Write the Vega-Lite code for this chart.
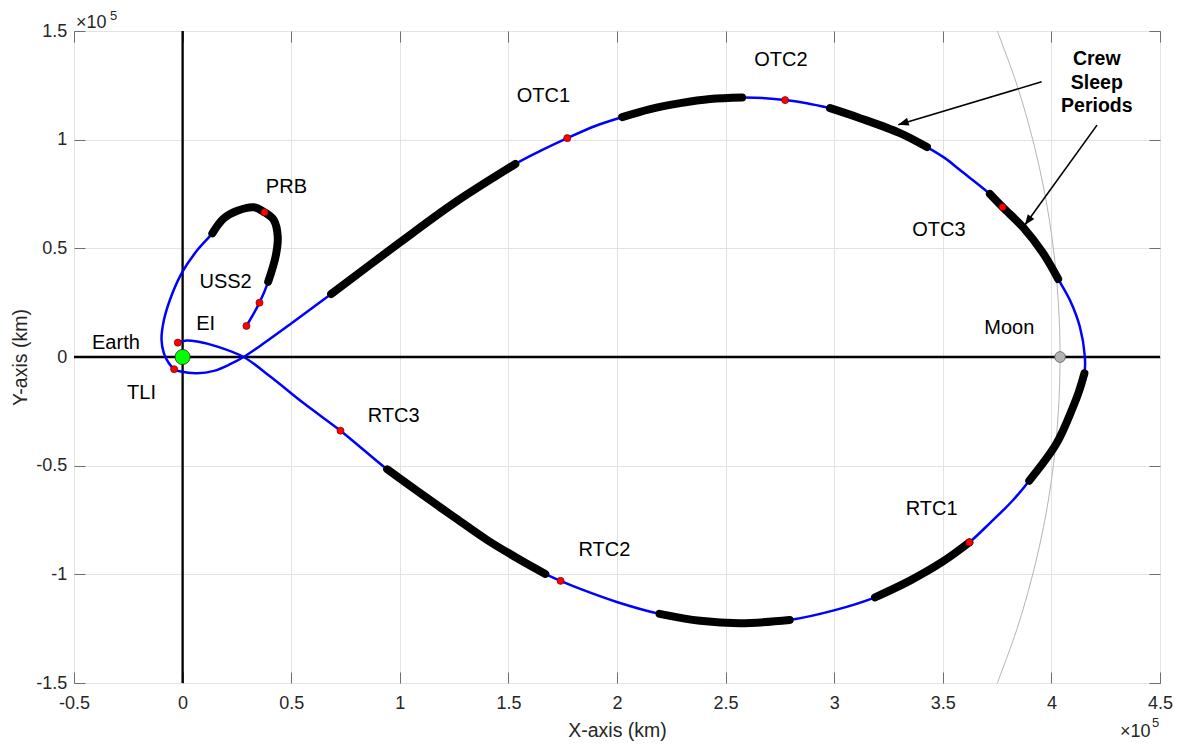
{
  "$schema": "https://vega.github.io/schema/vega-lite/v6.json",
  "width": 1086,
  "height": 652,
  "autosize": {"type": "none"},
  "padding": {"left": 74, "top": 31, "right": 20, "bottom": 61},
  "background": "white",
  "config": {
    "view": {"stroke": "#8a8a8a", "strokeWidth": 1},
    "font": "Liberation Sans",
    "axis": {
      "labelFont": "Liberation Sans", "labelFontSize": 18, "labelColor": "#262626",
      "titleFont": "Liberation Sans", "titleFontSize": 19.5, "titleColor": "#262626", "titleFontWeight": "normal",
      "domain": false, "tickColor": "#6e6e6e", "tickSize": -11, "tickWidth": 1,
      "gridColor": "#e3e3e3", "gridWidth": 1, "labelFlush": false, "labelOverlap": false
    }
  },
  "datasets": {
    "orbit": [
      {"i": 1, "x": 375100, "y": -150000}, {"i": 2, "x": 384200, "y": -125000}, {"i": 3, "x": 391400, "y": -100000},
      {"i": 4, "x": 397000, "y": -75000}, {"i": 5, "x": 400900, "y": -50000}, {"i": 6, "x": 403200, "y": -25000},
      {"i": 7, "x": 404000, "y": 0}, {"i": 8, "x": 403200, "y": 25000}, {"i": 9, "x": 400900, "y": 50000},
      {"i": 10, "x": 397000, "y": 75000}, {"i": 11, "x": 391400, "y": 100000}, {"i": 12, "x": 384200, "y": 125000},
      {"i": 13, "x": 375100, "y": 150000}
    ],
    "traj": [
      {"i": 1, "x": 29400, "y": 14300}, {"i": 2, "x": 35400, "y": 25000}, {"i": 3, "x": 39400, "y": 34600},
      {"i": 4, "x": 42800, "y": 46100}, {"i": 5, "x": 43800, "y": 55300}, {"i": 6, "x": 42000, "y": 63000},
      {"i": 7, "x": 37700, "y": 66600}, {"i": 8, "x": 32800, "y": 68900}, {"i": 9, "x": 25200, "y": 67300},
      {"i": 10, "x": 19000, "y": 63800}, {"i": 11, "x": 13700, "y": 56900}, {"i": 12, "x": 6800, "y": 49200},
      {"i": 13, "x": -100, "y": 39200}, {"i": 14, "x": -4700, "y": 29300}, {"i": 15, "x": -8600, "y": 17000},
      {"i": 16, "x": -9700, "y": 7800}, {"i": 17, "x": -8600, "y": 1700}, {"i": 18, "x": -6300, "y": -2900},
      {"i": 19, "x": -3900, "y": -5600}, {"i": 20, "x": -900, "y": -6700}, {"i": 21, "x": 6800, "y": -7500},
      {"i": 22, "x": 14400, "y": -6400}, {"i": 23, "x": 22100, "y": -3200}, {"i": 24, "x": 28100, "y": 0},
      {"i": 25, "x": 38200, "y": 6900}, {"i": 26, "x": 49700, "y": 15200}, {"i": 27, "x": 68400, "y": 29000},
      {"i": 28, "x": 100300, "y": 52900}, {"i": 29, "x": 124800, "y": 70700}, {"i": 30, "x": 153200, "y": 88800},
      {"i": 31, "x": 164700, "y": 94800}, {"i": 32, "x": 177100, "y": 100700}, {"i": 33, "x": 190000, "y": 106300},
      {"i": 34, "x": 202400, "y": 110400}, {"i": 35, "x": 215300, "y": 114100}, {"i": 36, "x": 229100, "y": 116800},
      {"i": 37, "x": 242900, "y": 118700}, {"i": 38, "x": 257600, "y": 119400}, {"i": 39, "x": 268200, "y": 119100},
      {"i": 40, "x": 277400, "y": 118200}, {"i": 41, "x": 288000, "y": 116600}, {"i": 42, "x": 298100, "y": 114500},
      {"i": 43, "x": 311900, "y": 109900}, {"i": 44, "x": 330300, "y": 103000}, {"i": 45, "x": 342700, "y": 96600},
      {"i": 46, "x": 351000, "y": 91500}, {"i": 47, "x": 357900, "y": 86000}, {"i": 48, "x": 371700, "y": 75000},
      {"i": 49, "x": 377500, "y": 69000}, {"i": 50, "x": 387000, "y": 59600}, {"i": 51, "x": 396200, "y": 47700},
      {"i": 52, "x": 403100, "y": 35900}, {"i": 53, "x": 408500, "y": 26200}, {"i": 54, "x": 413100, "y": 13900},
      {"i": 55, "x": 415400, "y": 100}, {"i": 56, "x": 415200, "y": -7500}, {"i": 57, "x": 412600, "y": -16100},
      {"i": 58, "x": 410000, "y": -22900}, {"i": 59, "x": 402400, "y": -39700}, {"i": 60, "x": 389800, "y": -56900},
      {"i": 61, "x": 382400, "y": -65800}, {"i": 62, "x": 371700, "y": -76400}, {"i": 63, "x": 362200, "y": -85300},
      {"i": 64, "x": 349900, "y": -94200}, {"i": 65, "x": 334900, "y": -102900}, {"i": 66, "x": 318800, "y": -110600},
      {"i": 67, "x": 299900, "y": -116600}, {"i": 68, "x": 279500, "y": -121000}, {"i": 69, "x": 256700, "y": -122500},
      {"i": 70, "x": 238300, "y": -121400}, {"i": 71, "x": 219600, "y": -118200}, {"i": 72, "x": 199900, "y": -112700},
      {"i": 73, "x": 183100, "y": -106700}, {"i": 74, "x": 174000, "y": -103000}, {"i": 75, "x": 167000, "y": -99800},
      {"i": 76, "x": 155500, "y": -93400}, {"i": 77, "x": 140200, "y": -84200}, {"i": 78, "x": 124800, "y": -73500},
      {"i": 79, "x": 109500, "y": -62700}, {"i": 80, "x": 94200, "y": -51700}, {"i": 81, "x": 83400, "y": -42800},
      {"i": 82, "x": 72700, "y": -33900}, {"i": 83, "x": 55800, "y": -21300}, {"i": 84, "x": 40500, "y": -9100},
      {"i": 85, "x": 28100, "y": 0}, {"i": 86, "x": 16000, "y": 4800}, {"i": 87, "x": 6800, "y": 7100},
      {"i": 88, "x": 1800, "y": 7600}, {"i": 89, "x": -2200, "y": 6600}
    ],
    "sleep": [
      {"seg": 1, "i": 3, "x": 39400, "y": 34600}, {"seg": 1, "i": 4, "x": 42800, "y": 46100}, {"seg": 1, "i": 5, "x": 43800, "y": 55300},
      {"seg": 1, "i": 6, "x": 42000, "y": 63000}, {"seg": 1, "i": 7, "x": 37700, "y": 66600}, {"seg": 1, "i": 8, "x": 32800, "y": 68900},
      {"seg": 1, "i": 9, "x": 25200, "y": 67300}, {"seg": 1, "i": 10, "x": 19000, "y": 63800}, {"seg": 1, "i": 11, "x": 13700, "y": 56900},
      {"seg": 2, "i": 27, "x": 68400, "y": 29000}, {"seg": 2, "i": 28, "x": 100300, "y": 52900}, {"seg": 2, "i": 29, "x": 124800, "y": 70700},
      {"seg": 2, "i": 30, "x": 153200, "y": 88800},
      {"seg": 3, "i": 34, "x": 202400, "y": 110400}, {"seg": 3, "i": 35, "x": 215300, "y": 114100}, {"seg": 3, "i": 36, "x": 229100, "y": 116800},
      {"seg": 3, "i": 37, "x": 242900, "y": 118700}, {"seg": 3, "i": 38, "x": 257600, "y": 119400},
      {"seg": 4, "i": 42, "x": 298100, "y": 114500}, {"seg": 4, "i": 43, "x": 311900, "y": 109900}, {"seg": 4, "i": 44, "x": 330300, "y": 103000},
      {"seg": 4, "i": 45, "x": 342700, "y": 96600},
      {"seg": 5, "i": 48, "x": 371700, "y": 75000}, {"seg": 5, "i": 49, "x": 377500, "y": 69000}, {"seg": 5, "i": 50, "x": 387000, "y": 59600},
      {"seg": 5, "i": 51, "x": 396200, "y": 47700}, {"seg": 5, "i": 52, "x": 403100, "y": 35900},
      {"seg": 6, "i": 56, "x": 415200, "y": -7500}, {"seg": 6, "i": 57, "x": 412600, "y": -16100}, {"seg": 6, "i": 58, "x": 410000, "y": -22900},
      {"seg": 6, "i": 59, "x": 402400, "y": -39700}, {"seg": 6, "i": 60, "x": 389800, "y": -56900},
      {"seg": 7, "i": 63, "x": 362200, "y": -85300}, {"seg": 7, "i": 64, "x": 349900, "y": -94200}, {"seg": 7, "i": 65, "x": 334900, "y": -102900},
      {"seg": 7, "i": 66, "x": 318800, "y": -110600},
      {"seg": 8, "i": 68, "x": 279500, "y": -121000}, {"seg": 8, "i": 69, "x": 256700, "y": -122500}, {"seg": 8, "i": 70, "x": 238300, "y": -121400},
      {"seg": 8, "i": 71, "x": 219600, "y": -118200},
      {"seg": 9, "i": 75, "x": 167000, "y": -99800}, {"seg": 9, "i": 76, "x": 155500, "y": -93400}, {"seg": 9, "i": 77, "x": 140200, "y": -84200},
      {"seg": 9, "i": 78, "x": 124800, "y": -73500}, {"seg": 9, "i": 79, "x": 109500, "y": -62700}, {"seg": 9, "i": 80, "x": 94200, "y": -51700}
    ],
    "burns": [
      {"x": 29400, "y": 14300}, {"x": 35400, "y": 25000}, {"x": 37700, "y": 66600}, {"x": -3900, "y": -5600},
      {"x": 177100, "y": 100700}, {"x": 277400, "y": 118200}, {"x": 377500, "y": 69000}, {"x": 362200, "y": -85300},
      {"x": 174000, "y": -103000}, {"x": 72700, "y": -33900}, {"x": -2200, "y": 6600}
    ],
    "labels": [
      {"label": "PRB", "x": 47800, "y": 78200}, {"label": "USS2", "x": 19800, "y": 34500},
      {"label": "EI", "x": 10600, "y": 15200}, {"label": "Earth", "x": -30700, "y": 6400},
      {"label": "TLI", "x": -18900, "y": -16600}, {"label": "OTC1", "x": 166100, "y": 120100},
      {"label": "OTC2", "x": 275500, "y": 136600}, {"label": "OTC3", "x": 348200, "y": 58400},
      {"label": "Moon", "x": 380600, "y": 13500}, {"label": "RTC3", "x": 97200, "y": -27100},
      {"label": "RTC2", "x": 194200, "y": -88800}, {"label": "RTC1", "x": 344900, "y": -70100}
    ],
    "note": [
      {"label": "Crew", "x": 420900, "y": 136900}, {"label": "Sleep", "x": 420900, "y": 126200},
      {"label": "Periods", "x": 420900, "y": 115500}
    ],
    "arrows": [
      {"id": 1, "x": 395500, "y": 126600, "x2": 329500, "y2": 106900},
      {"id": 2, "x": 421000, "y": 106700, "x2": 387800, "y2": 60700}
    ]
  },
  "resolve": {"axis": {"x": "independent", "y": "independent"}},
  "layer": [
    {
      "data": {"name": "orbit"},
      "mark": {"type": "line", "color": "#b4b4b4", "strokeWidth": 1, "clip": true, "interpolate": "catmull-rom"},
      "encoding": {
        "x": {
          "field": "x", "type": "quantitative",
          "scale": {"domain": [-50000, 450000], "nice": false, "zero": false},
          "axis": {
            "orient": "bottom", "grid": true,
            "values": [-50000, 0, 50000, 100000, 150000, 200000, 250000, 300000, 350000, 400000, 450000],
            "labelExpr": "datum.value / 100000", "labelPadding": 22,
            "title": "X-axis (km)", "titleX": 543, "titleY": 47, "titleBaseline": "middle", "titleAlign": "center"
          }
        },
        "y": {
          "field": "y", "type": "quantitative",
          "scale": {"domain": [-150000, 150000], "nice": false, "zero": false},
          "axis": {
            "orient": "left", "grid": true,
            "values": [-150000, -100000, -50000, 0, 50000, 100000, 150000],
            "labelExpr": "datum.value / 100000", "labelPadding": 18.3,
            "title": "Y-axis (km)", "titleX": -54, "titleY": 326, "titleAngle": -90,
            "titleBaseline": "middle", "titleAlign": "center"
          }
        },
        "order": {"field": "i", "type": "quantitative"}
      }
    },
    {
      "data": {"values": [{"x": 0}]},
      "mark": {"type": "rule", "color": "#000000", "strokeWidth": 2.3},
      "encoding": {
        "x": {
          "field": "x", "type": "quantitative",
          "axis": {
            "orient": "top", "grid": false, "labels": false, "title": null,
            "values": [-50000, 0, 50000, 100000, 150000, 200000, 250000, 300000, 350000, 400000, 450000]
          }
        }
      }
    },
    {
      "data": {"values": [{"y": 0}]},
      "mark": {"type": "rule", "color": "#000000", "strokeWidth": 2.3},
      "encoding": {
        "y": {
          "field": "y", "type": "quantitative",
          "axis": {
            "orient": "right", "grid": false, "labels": false, "title": null,
            "values": [-150000, -100000, -50000, 0, 50000, 100000, 150000]
          }
        }
      }
    },
    {
      "data": {"name": "traj"},
      "mark": {"type": "line", "color": "#0000ff", "strokeWidth": 2.5, "interpolate": "catmull-rom"},
      "encoding": {
        "x": {"field": "x", "type": "quantitative", "axis": null},
        "y": {"field": "y", "type": "quantitative", "axis": null},
        "order": {"field": "i", "type": "quantitative"}
      }
    },
    {
      "data": {"name": "sleep"},
      "mark": {"type": "line", "color": "#000000", "strokeWidth": 8, "strokeCap": "round", "interpolate": "catmull-rom"},
      "encoding": {
        "x": {"field": "x", "type": "quantitative", "axis": null},
        "y": {"field": "y", "type": "quantitative", "axis": null},
        "detail": {"field": "seg", "type": "nominal"},
        "order": {"field": "i", "type": "quantitative"}
      }
    },
    {
      "data": {"name": "burns"},
      "mark": {"type": "point", "shape": "circle", "filled": true, "fill": "#ff0000", "stroke": "#7a0000", "strokeWidth": 0.7, "size": 50, "opacity": 1},
      "encoding": {
        "x": {"field": "x", "type": "quantitative", "axis": null},
        "y": {"field": "y", "type": "quantitative", "axis": null}
      }
    },
    {
      "data": {"values": [{"body": "Earth", "x": 0, "y": 0}]},
      "mark": {"type": "point", "shape": "circle", "filled": true, "fill": "#00ff00", "stroke": "#2a2a2a", "strokeWidth": 0.8, "size": 230, "opacity": 1},
      "encoding": {
        "x": {"field": "x", "type": "quantitative", "axis": null},
        "y": {"field": "y", "type": "quantitative", "axis": null}
      }
    },
    {
      "data": {"values": [{"body": "Moon", "x": 404000, "y": 0}]},
      "mark": {"type": "point", "shape": "circle", "filled": true, "fill": "#b3b3b3", "stroke": "#555555", "strokeWidth": 0.8, "size": 115, "opacity": 1},
      "encoding": {
        "x": {"field": "x", "type": "quantitative", "axis": null},
        "y": {"field": "y", "type": "quantitative", "axis": null}
      }
    },
    {
      "data": {"name": "labels"},
      "mark": {"type": "text", "font": "Liberation Sans", "fontSize": 20, "color": "#000000", "align": "center", "baseline": "middle"},
      "encoding": {
        "x": {"field": "x", "type": "quantitative", "axis": null},
        "y": {"field": "y", "type": "quantitative", "axis": null},
        "text": {"field": "label"}
      }
    },
    {
      "data": {"name": "note"},
      "mark": {"type": "text", "font": "Liberation Sans", "fontSize": 19.5, "fontWeight": "bold", "color": "#000000", "align": "center", "baseline": "middle"},
      "encoding": {
        "x": {"field": "x", "type": "quantitative", "axis": null},
        "y": {"field": "y", "type": "quantitative", "axis": null},
        "text": {"field": "label"}
      }
    },
    {
      "data": {"name": "arrows"},
      "mark": {"type": "rule", "color": "#000000", "strokeWidth": 1.6},
      "encoding": {
        "x": {"field": "x", "type": "quantitative", "axis": null},
        "y": {"field": "y", "type": "quantitative", "axis": null},
        "x2": {"field": "x2"},
        "y2": {"field": "y2"}
      }
    },
    {
      "data": {"name": "arrows"},
      "transform": [{"filter": "datum.id == 1"}],
      "mark": {"type": "point", "shape": "M0,0L-1,2.6L1,2.6Z", "filled": true, "fill": "#000000", "strokeWidth": 0, "size": 64, "angle": 253.4, "opacity": 1},
      "encoding": {
        "x": {"field": "x2", "type": "quantitative", "axis": null},
        "y": {"field": "y2", "type": "quantitative", "axis": null}
      }
    },
    {
      "data": {"name": "arrows"},
      "transform": [{"filter": "datum.id == 2"}],
      "mark": {"type": "point", "shape": "M0,0L-1,2.6L1,2.6Z", "filled": true, "fill": "#000000", "strokeWidth": 0, "size": 64, "angle": 215.9, "opacity": 1},
      "encoding": {
        "x": {"field": "x2", "type": "quantitative", "axis": null},
        "y": {"field": "y2", "type": "quantitative", "axis": null}
      }
    },
    {
      "data": {"values": [{"t": "×10", "x": -50000, "y": 150000}]},
      "mark": {"type": "text", "font": "Liberation Sans", "fontSize": 18, "color": "#262626", "align": "left", "baseline": "alphabetic", "dx": 2, "dy": -3},
      "encoding": {
        "x": {"field": "x", "type": "quantitative", "axis": null},
        "y": {"field": "y", "type": "quantitative", "axis": null},
        "text": {"field": "t"}
      }
    },
    {
      "data": {"values": [{"t": "5", "x": -50000, "y": 150000}]},
      "mark": {"type": "text", "font": "Liberation Sans", "fontSize": 13, "color": "#262626", "align": "left", "baseline": "alphabetic", "dx": 36, "dy": -11},
      "encoding": {
        "x": {"field": "x", "type": "quantitative", "axis": null},
        "y": {"field": "y", "type": "quantitative", "axis": null},
        "text": {"field": "t"}
      }
    },
    {
      "data": {"values": [{"t": "×10", "x": 450000, "y": -150000}]},
      "mark": {"type": "text", "font": "Liberation Sans", "fontSize": 18, "color": "#262626", "align": "left", "baseline": "alphabetic", "dx": -40, "dy": 54},
      "encoding": {
        "x": {"field": "x", "type": "quantitative", "axis": null},
        "y": {"field": "y", "type": "quantitative", "axis": null},
        "text": {"field": "t"}
      }
    },
    {
      "data": {"values": [{"t": "5", "x": 450000, "y": -150000}]},
      "mark": {"type": "text", "font": "Liberation Sans", "fontSize": 13, "color": "#262626", "align": "left", "baseline": "alphabetic", "dx": -8, "dy": 44},
      "encoding": {
        "x": {"field": "x", "type": "quantitative", "axis": null},
        "y": {"field": "y", "type": "quantitative", "axis": null},
        "text": {"field": "t"}
      }
    }
  ]
}
